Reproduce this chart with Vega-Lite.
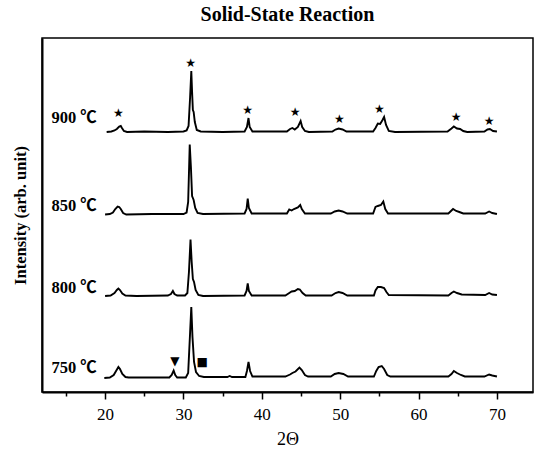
{
  "$schema": "https://vega.github.io/schema/vega-lite/v6.json",
  "width": 491,
  "height": 354,
  "autosize": "none",
  "padding": {"left": 42, "top": 38, "right": 1, "bottom": 58},
  "background": "white",
  "title": {"text": "Solid-State Reaction", "font": "Liberation Serif", "fontSize": 20, "fontWeight": "bold", "anchor": "middle", "offset": 13, "color": "black"},
  "config": {"view": {"stroke": "black", "strokeWidth": 1.5}, "axis": {"grid": false}},
  "datasets": {
    "xrd": [
      {"series": "900", "theta": 20.2, "intensity": 260}, {"series": "900", "theta": 20.8, "intensity": 260.5}, {"series": "900", "theta": 21.2, "intensity": 261.5}, {"series": "900", "theta": 21.5, "intensity": 263}, {"series": "900", "theta": 21.8, "intensity": 265.5}, {"series": "900", "theta": 22.0, "intensity": 266}, {"series": "900", "theta": 22.15, "intensity": 264}, {"series": "900", "theta": 22.4, "intensity": 261}, {"series": "900", "theta": 22.8, "intensity": 260}, {"series": "900", "theta": 25, "intensity": 260.5}, {"series": "900", "theta": 28, "intensity": 260}, {"series": "900", "theta": 30.0, "intensity": 260.5}, {"series": "900", "theta": 30.4, "intensity": 261.5}, {"series": "900", "theta": 30.65, "intensity": 266}, {"series": "900", "theta": 30.85, "intensity": 295}, {"series": "900", "theta": 31.0, "intensity": 321}, {"series": "900", "theta": 31.1, "intensity": 300}, {"series": "900", "theta": 31.2, "intensity": 282}, {"series": "900", "theta": 31.3, "intensity": 280}, {"series": "900", "theta": 31.45, "intensity": 270}, {"series": "900", "theta": 31.7, "intensity": 262}, {"series": "900", "theta": 32.2, "intensity": 260.5}, {"series": "900", "theta": 35, "intensity": 260}, {"series": "900", "theta": 37.8, "intensity": 260.5}, {"series": "900", "theta": 38.1, "intensity": 265}, {"series": "900", "theta": 38.3, "intensity": 274}, {"series": "900", "theta": 38.45, "intensity": 265}, {"series": "900", "theta": 38.8, "intensity": 260.5}, {"series": "900", "theta": 43.2, "intensity": 260.5}, {"series": "900", "theta": 43.6, "intensity": 263}, {"series": "900", "theta": 43.9, "intensity": 264}, {"series": "900", "theta": 44.2, "intensity": 262.5}, {"series": "900", "theta": 44.6, "intensity": 265}, {"series": "900", "theta": 44.95, "intensity": 271}, {"series": "900", "theta": 45.15, "intensity": 265}, {"series": "900", "theta": 45.5, "intensity": 261}, {"series": "900", "theta": 46, "intensity": 260}, {"series": "900", "theta": 49, "intensity": 260.5}, {"series": "900", "theta": 49.4, "intensity": 262.5}, {"series": "900", "theta": 49.8, "intensity": 263.5}, {"series": "900", "theta": 50.3, "intensity": 262.5}, {"series": "900", "theta": 50.8, "intensity": 260.5}, {"series": "900", "theta": 54.2, "intensity": 260.5}, {"series": "900", "theta": 54.5, "intensity": 264}, {"series": "900", "theta": 54.8, "intensity": 268.5}, {"series": "900", "theta": 55.1, "intensity": 268}, {"series": "900", "theta": 55.4, "intensity": 272}, {"series": "900", "theta": 55.6, "intensity": 275}, {"series": "900", "theta": 55.85, "intensity": 267}, {"series": "900", "theta": 56.2, "intensity": 261}, {"series": "900", "theta": 57, "intensity": 260}, {"series": "900", "theta": 63.7, "intensity": 260.5}, {"series": "900", "theta": 64.2, "intensity": 263.5}, {"series": "900", "theta": 64.5, "intensity": 265.5}, {"series": "900", "theta": 64.9, "intensity": 263.5}, {"series": "900", "theta": 65.3, "intensity": 263}, {"series": "900", "theta": 65.7, "intensity": 261}, {"series": "900", "theta": 66.2, "intensity": 260}, {"series": "900", "theta": 68.4, "intensity": 260.5}, {"series": "900", "theta": 68.8, "intensity": 262.5}, {"series": "900", "theta": 69.1, "intensity": 263}, {"series": "900", "theta": 69.5, "intensity": 261}, {"series": "900", "theta": 70.0, "intensity": 260.5},

      {"series": "850", "theta": 20.0, "intensity": 177.5}, {"series": "850", "theta": 20.6, "intensity": 178}, {"series": "850", "theta": 21.0, "intensity": 179.5}, {"series": "850", "theta": 21.3, "intensity": 183}, {"series": "850", "theta": 21.6, "intensity": 185.5}, {"series": "850", "theta": 21.8, "intensity": 185}, {"series": "850", "theta": 22.0, "intensity": 183}, {"series": "850", "theta": 22.3, "intensity": 179}, {"series": "850", "theta": 22.7, "intensity": 177.5}, {"series": "850", "theta": 26, "intensity": 178}, {"series": "850", "theta": 30.0, "intensity": 178}, {"series": "850", "theta": 30.4, "intensity": 179.5}, {"series": "850", "theta": 30.6, "intensity": 190}, {"series": "850", "theta": 30.8, "intensity": 247.5}, {"series": "850", "theta": 30.95, "intensity": 225}, {"series": "850", "theta": 31.1, "intensity": 196}, {"series": "850", "theta": 31.3, "intensity": 192}, {"series": "850", "theta": 31.5, "intensity": 184}, {"series": "850", "theta": 31.8, "intensity": 179}, {"series": "850", "theta": 32.5, "intensity": 178}, {"series": "850", "theta": 37.8, "intensity": 178.5}, {"series": "850", "theta": 38.05, "intensity": 183}, {"series": "850", "theta": 38.2, "intensity": 193.5}, {"series": "850", "theta": 38.35, "intensity": 184}, {"series": "850", "theta": 38.7, "intensity": 178.5}, {"series": "850", "theta": 43.2, "intensity": 178.5}, {"series": "850", "theta": 43.5, "intensity": 182.5}, {"series": "850", "theta": 43.8, "intensity": 181.5}, {"series": "850", "theta": 44.1, "intensity": 183}, {"series": "850", "theta": 44.6, "intensity": 184.5}, {"series": "850", "theta": 44.9, "intensity": 187}, {"series": "850", "theta": 45.1, "intensity": 183}, {"series": "850", "theta": 45.5, "intensity": 178.5}, {"series": "850", "theta": 48.8, "intensity": 178.5}, {"series": "850", "theta": 49.3, "intensity": 180.5}, {"series": "850", "theta": 49.8, "intensity": 181.5}, {"series": "850", "theta": 50.3, "intensity": 180.5}, {"series": "850", "theta": 50.9, "intensity": 178.5}, {"series": "850", "theta": 54.2, "intensity": 178.5}, {"series": "850", "theta": 54.5, "intensity": 185}, {"series": "850", "theta": 54.8, "intensity": 186}, {"series": "850", "theta": 55.2, "intensity": 187}, {"series": "850", "theta": 55.5, "intensity": 190.5}, {"series": "850", "theta": 55.75, "intensity": 183}, {"series": "850", "theta": 56.1, "intensity": 178.5}, {"series": "850", "theta": 63.8, "intensity": 178.5}, {"series": "850", "theta": 64.2, "intensity": 181.5}, {"series": "850", "theta": 64.4, "intensity": 183}, {"series": "850", "theta": 64.8, "intensity": 181}, {"series": "850", "theta": 65.2, "intensity": 180}, {"series": "850", "theta": 65.7, "intensity": 178.5}, {"series": "850", "theta": 68.5, "intensity": 178.5}, {"series": "850", "theta": 69.0, "intensity": 180.5}, {"series": "850", "theta": 69.4, "intensity": 179}, {"series": "850", "theta": 70.0, "intensity": 178},

      {"series": "800", "theta": 20.0, "intensity": 96}, {"series": "800", "theta": 20.7, "intensity": 96.5}, {"series": "800", "theta": 21.2, "intensity": 99}, {"series": "800", "theta": 21.5, "intensity": 102}, {"series": "800", "theta": 21.7, "intensity": 103.5}, {"series": "800", "theta": 21.9, "intensity": 102}, {"series": "800", "theta": 22.2, "intensity": 98.5}, {"series": "800", "theta": 22.6, "intensity": 96.5}, {"series": "800", "theta": 24, "intensity": 96}, {"series": "800", "theta": 28.0, "intensity": 96.5}, {"series": "800", "theta": 28.4, "intensity": 98}, {"series": "800", "theta": 28.65, "intensity": 101}, {"series": "800", "theta": 28.85, "intensity": 98}, {"series": "800", "theta": 29.2, "intensity": 96.5}, {"series": "800", "theta": 30.2, "intensity": 96.5}, {"series": "800", "theta": 30.5, "intensity": 99}, {"series": "800", "theta": 30.7, "intensity": 120}, {"series": "800", "theta": 30.9, "intensity": 152.5}, {"series": "800", "theta": 31.05, "intensity": 130}, {"series": "800", "theta": 31.2, "intensity": 113}, {"series": "800", "theta": 31.35, "intensity": 110}, {"series": "800", "theta": 31.55, "intensity": 102}, {"series": "800", "theta": 31.9, "intensity": 97}, {"series": "800", "theta": 32.5, "intensity": 96}, {"series": "800", "theta": 37.8, "intensity": 96.5}, {"series": "800", "theta": 38.05, "intensity": 101}, {"series": "800", "theta": 38.2, "intensity": 108.5}, {"series": "800", "theta": 38.35, "intensity": 101}, {"series": "800", "theta": 38.7, "intensity": 96.5}, {"series": "800", "theta": 43.0, "intensity": 96.5}, {"series": "800", "theta": 43.5, "intensity": 99}, {"series": "800", "theta": 43.8, "intensity": 100.5}, {"series": "800", "theta": 44.2, "intensity": 101}, {"series": "800", "theta": 44.6, "intensity": 103}, {"series": "800", "theta": 44.85, "intensity": 102.5}, {"series": "800", "theta": 45.2, "intensity": 99}, {"series": "800", "theta": 45.6, "intensity": 96.5}, {"series": "800", "theta": 48.9, "intensity": 96.5}, {"series": "800", "theta": 49.4, "intensity": 99}, {"series": "800", "theta": 49.8, "intensity": 100}, {"series": "800", "theta": 50.3, "intensity": 99}, {"series": "800", "theta": 50.9, "intensity": 96.5}, {"series": "800", "theta": 54.3, "intensity": 96.5}, {"series": "800", "theta": 54.5, "intensity": 101.5}, {"series": "800", "theta": 54.8, "intensity": 105}, {"series": "800", "theta": 55.2, "intensity": 105}, {"series": "800", "theta": 55.6, "intensity": 104}, {"series": "800", "theta": 55.9, "intensity": 100}, {"series": "800", "theta": 56.2, "intensity": 97}, {"series": "800", "theta": 63.8, "intensity": 96.5}, {"series": "800", "theta": 64.2, "intensity": 99}, {"series": "800", "theta": 64.5, "intensity": 100.5}, {"series": "800", "theta": 64.9, "intensity": 99}, {"series": "800", "theta": 65.5, "intensity": 97.5}, {"series": "800", "theta": 68.5, "intensity": 97}, {"series": "800", "theta": 69.0, "intensity": 99}, {"series": "800", "theta": 69.4, "intensity": 97.5}, {"series": "800", "theta": 70.0, "intensity": 97},

      {"series": "750", "theta": 19.9, "intensity": 14}, {"series": "750", "theta": 20.6, "intensity": 14.5}, {"series": "750", "theta": 21.1, "intensity": 17}, {"series": "750", "theta": 21.4, "intensity": 21}, {"series": "750", "theta": 21.7, "intensity": 25}, {"series": "750", "theta": 21.9, "intensity": 23}, {"series": "750", "theta": 22.2, "intensity": 18}, {"series": "750", "theta": 22.6, "intensity": 15}, {"series": "750", "theta": 23, "intensity": 14.5}, {"series": "750", "theta": 28.2, "intensity": 14.5}, {"series": "750", "theta": 28.5, "intensity": 17}, {"series": "750", "theta": 28.75, "intensity": 21.5}, {"series": "750", "theta": 28.95, "intensity": 17}, {"series": "750", "theta": 29.2, "intensity": 14.5}, {"series": "750", "theta": 30.3, "intensity": 14.5}, {"series": "750", "theta": 30.6, "intensity": 19}, {"series": "750", "theta": 30.85, "intensity": 60}, {"series": "750", "theta": 31.0, "intensity": 85}, {"series": "750", "theta": 31.15, "intensity": 55}, {"series": "750", "theta": 31.35, "intensity": 30}, {"series": "750", "theta": 31.6, "intensity": 20}, {"series": "750", "theta": 32.0, "intensity": 16}, {"series": "750", "theta": 32.6, "intensity": 15}, {"series": "750", "theta": 35.6, "intensity": 15}, {"series": "750", "theta": 35.9, "intensity": 16}, {"series": "750", "theta": 36.2, "intensity": 15}, {"series": "750", "theta": 37.9, "intensity": 15}, {"series": "750", "theta": 38.1, "intensity": 21}, {"series": "750", "theta": 38.3, "intensity": 30}, {"series": "750", "theta": 38.5, "intensity": 21}, {"series": "750", "theta": 38.8, "intensity": 15.5}, {"series": "750", "theta": 43.0, "intensity": 15.5}, {"series": "750", "theta": 43.6, "intensity": 17.5}, {"series": "750", "theta": 43.9, "intensity": 19}, {"series": "750", "theta": 44.3, "intensity": 20.5}, {"series": "750", "theta": 44.8, "intensity": 24.5}, {"series": "750", "theta": 45.1, "intensity": 22}, {"series": "750", "theta": 45.5, "intensity": 17}, {"series": "750", "theta": 45.9, "intensity": 15.5}, {"series": "750", "theta": 48.8, "intensity": 15.5}, {"series": "750", "theta": 49.3, "intensity": 18}, {"series": "750", "theta": 49.8, "intensity": 19}, {"series": "750", "theta": 50.4, "intensity": 18}, {"series": "750", "theta": 51, "intensity": 15.5}, {"series": "750", "theta": 54.3, "intensity": 15.5}, {"series": "750", "theta": 54.6, "intensity": 21}, {"series": "750", "theta": 54.9, "intensity": 25}, {"series": "750", "theta": 55.3, "intensity": 26}, {"series": "750", "theta": 55.6, "intensity": 23}, {"series": "750", "theta": 56.0, "intensity": 17}, {"series": "750", "theta": 56.4, "intensity": 15.5}, {"series": "750", "theta": 63.8, "intensity": 15.5}, {"series": "750", "theta": 64.2, "intensity": 18}, {"series": "750", "theta": 64.5, "intensity": 21}, {"series": "750", "theta": 64.9, "intensity": 19}, {"series": "750", "theta": 65.4, "intensity": 17}, {"series": "750", "theta": 65.9, "intensity": 15.5}, {"series": "750", "theta": 68.4, "intensity": 15.5}, {"series": "750", "theta": 69.0, "intensity": 17.5}, {"series": "750", "theta": 69.4, "intensity": 16.5}, {"series": "750", "theta": 70.0, "intensity": 15.5}
    ],
    "labels": [
      {"label": "900 ℃", "theta": 18.95, "intensity": 274},
      {"label": "850 ℃", "theta": 18.95, "intensity": 186},
      {"label": "800 ℃", "theta": 18.95, "intensity": 104},
      {"label": "750 ℃", "theta": 18.95, "intensity": 24}
    ],
    "symbols": [
      {"symbol": "★", "theta": 21.7, "intensity": 279},
      {"symbol": "★", "theta": 30.9, "intensity": 329},
      {"symbol": "★", "theta": 38.2, "intensity": 282},
      {"symbol": "★", "theta": 44.25, "intensity": 280},
      {"symbol": "★", "theta": 49.9, "intensity": 273},
      {"symbol": "★", "theta": 55.0, "intensity": 283},
      {"symbol": "★", "theta": 64.8, "intensity": 275},
      {"symbol": "★", "theta": 69.0, "intensity": 271},
      {"symbol": "▼", "theta": 28.9, "intensity": 31},
      {"symbol": "■", "theta": 32.4, "intensity": 30}
    ]
  },
  "resolve": {"axis": {"x": "independent", "y": "independent"}},
  "layer": [
    {
      "data": {"name": "xrd"},
      "mark": {"type": "line", "color": "black", "strokeWidth": 1.9},
      "encoding": {
        "x": {"field": "theta", "type": "quantitative", "scale": {"domain": [11.95, 74.6], "nice": false, "zero": false},
          "axis": {"orient": "bottom", "values": [20, 30, 40, 50, 60, 70], "tickSize": 7, "tickColor": "black", "tickWidth": 1.5, "domainColor": "black", "domainWidth": 2, "labelFont": "Liberation Serif", "labelFontSize": 17, "labelColor": "black", "labelPadding": 7, "title": "2Θ", "titleFont": "Liberation Serif", "titleFontSize": 18, "titleFontWeight": "normal", "titleColor": "black", "titlePadding": 8,
            "encode": {"ticks": {"update": {"y2": {"value": -7}}}}}},
        "y": {"field": "intensity", "type": "quantitative", "scale": {"domain": [0, 354], "nice": false, "zero": false},
          "axis": {"labels": false, "ticks": false, "domainColor": "black", "domainWidth": 2, "title": "Intensity (arb. unit)", "titleFont": "Liberation Serif", "titleFontSize": 16.5, "titleFontWeight": "bold", "titleColor": "black", "titlePadding": 14}},
        "detail": {"field": "series"}
      }
    },
    {
      "data": {"name": "labels"},
      "mark": {"type": "text", "align": "right", "baseline": "middle", "font": "Liberation Serif, 'Noto Sans CJK SC'", "fontSize": 16.5, "fontWeight": "bold", "color": "black"},
      "encoding": {
        "x": {"field": "theta", "type": "quantitative",
          "axis": {"orient": "bottom", "values": [15, 25, 35, 45, 55, 65], "tickSize": 4, "tickColor": "black", "tickWidth": 1.5, "labels": false, "domain": false, "title": null,
            "encode": {"ticks": {"update": {"y2": {"value": -4}}}}}},
        "y": {"field": "intensity", "type": "quantitative", "axis": null},
        "text": {"field": "label"}
      }
    },
    {
      "data": {"name": "symbols"},
      "mark": {"type": "text", "align": "center", "baseline": "middle", "font": "DejaVu Sans", "fontSize": 12, "color": "black"},
      "encoding": {
        "x": {"field": "theta", "type": "quantitative", "axis": null},
        "y": {"field": "intensity", "type": "quantitative", "axis": null},
        "text": {"field": "symbol"}
      }
    }
  ]
}
